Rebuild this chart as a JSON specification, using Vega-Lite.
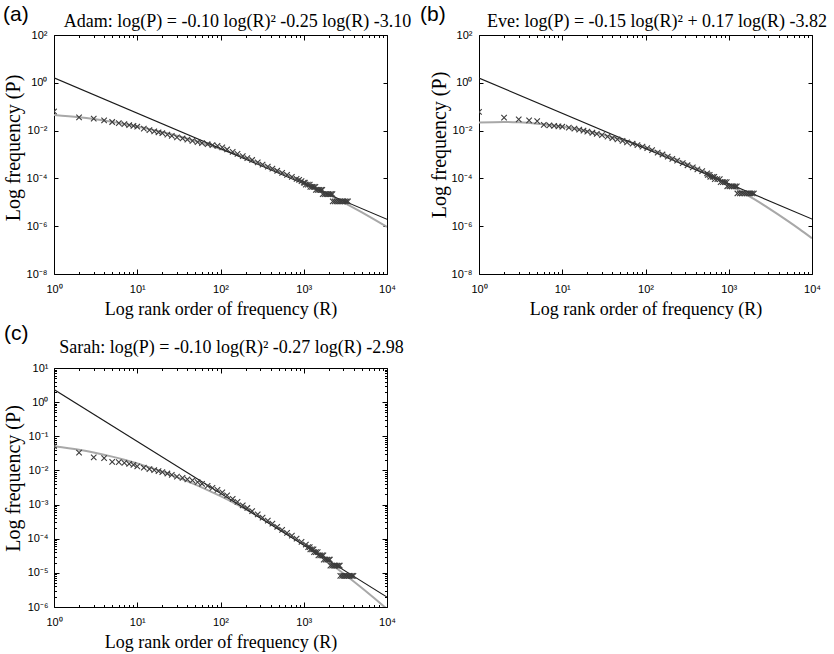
{
  "$schema": "https://vega.github.io/schema/vega-lite/v6.json",
  "autosize": {"type": "none"},
  "padding": {"left": 54, "top": 35, "right": 780, "bottom": 619},
  "background": "#ffffff",
  "bounds": "flush",
  "columns": 2,
  "spacing": {"row": 94, "column": 92},
  "config": {
    "view": {"stroke": "#000000", "strokeWidth": 1},
    "axis": {"grid": false, "domain": false, "labelFont": "Liberation Sans", "labelFontSize": 11, "labelColor": "#000000", "tickColor": "#000000", "tickWidth": 1, "titleFont": "Liberation Serif", "titleFontSize": 18, "titleFontWeight": "normal", "titleColor": "#000000", "labelFlush": false, "labelOverlap": false},
    "axisLeft": {"titleFontSize": 20},
    "title": {"font": "Liberation Sans", "fontSize": 21, "fontWeight": "normal", "color": "#000000", "anchor": "start", "frame": "group"}
  },
  "datasets": {
    "adam_pts": [{"R":1,"P":0.0631},{"R":2,"P":0.0355},{"R":3,"P":0.0316},{"R":4,"P":0.0269},{"R":5,"P":0.0229},{"R":6,"P":0.0204},{"R":7,"P":0.0186},{"R":8,"P":0.017},{"R":9,"P":0.0158},{"R":10,"P":0.0145},{"R":12,"P":0.012},{"R":14,"P":0.0105},{"R":16,"P":0.00933},{"R":18,"P":0.00851},{"R":20,"P":0.00776},{"R":23,"P":0.00676},{"R":26,"P":0.00603},{"R":30,"P":0.00525},{"R":35,"P":0.00468},{"R":40,"P":0.00417},{"R":46,"P":0.00372},{"R":53,"P":0.00331},{"R":60,"P":0.00302},{"R":70,"P":0.00269},{"R":80,"P":0.00245},{"R":92,"P":0.00229},{"R":105,"P":0.002},{"R":120,"P":0.00162},{"R":140,"P":0.00129},{"R":160,"P":0.00107},{"R":185,"P":0.000851},{"R":210,"P":0.000708},{"R":240,"P":0.000589},{"R":280,"P":0.000468},{"R":320,"P":0.00038},{"R":370,"P":0.000309},{"R":420,"P":0.000257},{"R":480,"P":0.000209},{"R":550,"P":0.00017},{"R":630,"P":0.000141},{"R":720,"P":0.000115},{"R":820,"P":9.55e-5},{"R":880,"P":8.77e-5},{"R":940,"P":7.67e-5},{"R":1000,"P":6.58e-5},{"R":1030,"P":6.58e-5},{"R":1060,"P":5.48e-5},{"R":1120,"P":5.48e-5},{"R":1180,"P":5.48e-5},{"R":1200,"P":4.38e-5},{"R":1260,"P":4.38e-5},{"R":1320,"P":4.38e-5},{"R":1380,"P":4.38e-5},{"R":1400,"P":3.29e-5},{"R":1470,"P":3.29e-5},{"R":1540,"P":3.29e-5},{"R":1610,"P":3.29e-5},{"R":1670,"P":3.29e-5},{"R":1690,"P":2.19e-5},{"R":1780,"P":2.19e-5},{"R":1870,"P":2.19e-5},{"R":1960,"P":2.19e-5},{"R":2050,"P":2.19e-5},{"R":2140,"P":2.19e-5},{"R":2210,"P":2.19e-5},{"R":2230,"P":1.1e-5},{"R":2350,"P":1.1e-5},{"R":2470,"P":1.1e-5},{"R":2600,"P":1.1e-5},{"R":2730,"P":1.1e-5},{"R":2860,"P":1.1e-5},{"R":3000,"P":1.1e-5},{"R":3140,"P":1.1e-5},{"R":3280,"P":1.1e-5},{"R":3400,"P":1.1e-5}],
    "adam_quad": [{"R":1,"P":0.0451},{"R":2,"P":0.0361},{"R":3,"P":0.0303},{"R":5,"P":0.0232},{"R":7,"P":0.019},{"R":10,"P":0.0149},{"R":15,"P":0.011},{"R":20,"P":0.00869},{"R":30,"P":0.00605},{"R":50,"P":0.00366},{"R":70,"P":0.00256},{"R":100,"P":0.00171},{"R":150,"P":0.001045},{"R":200,"P":0.000723},{"R":300,"P":0.000418},{"R":500,"P":0.0002},{"R":700,"P":0.00012},{"R":1000,"P":6.78e-5},{"R":1500,"P":3.44e-5},{"R":2000,"P":2.08e-5},{"R":3000,"P":1e-5},{"R":5000,"P":3.78e-6},{"R":7000,"P":1.94e-6},{"R":10000,"P":9.33e-7}],
    "adam_pow": [{"R":1,"P":1.62},{"R":10000,"P":1.95e-6}],
    "eve_pts": [{"R":1,"P":0.0603},{"R":2,"P":0.0347},{"R":3,"P":0.0295},{"R":4,"P":0.0269},{"R":5,"P":0.0251},{"R":6,"P":0.0174},{"R":7,"P":0.0166},{"R":8,"P":0.0158},{"R":9,"P":0.0151},{"R":10,"P":0.0145},{"R":12,"P":0.0132},{"R":14,"P":0.012},{"R":16,"P":0.011},{"R":18,"P":0.01},{"R":20,"P":0.00912},{"R":23,"P":0.00813},{"R":26,"P":0.00724},{"R":30,"P":0.00646},{"R":35,"P":0.00562},{"R":40,"P":0.0049},{"R":46,"P":0.00427},{"R":53,"P":0.00372},{"R":60,"P":0.00324},{"R":70,"P":0.00282},{"R":80,"P":0.00245},{"R":92,"P":0.00214},{"R":105,"P":0.00186},{"R":120,"P":0.00151},{"R":140,"P":0.0012},{"R":160,"P":0.001},{"R":185,"P":0.000813},{"R":210,"P":0.000661},{"R":240,"P":0.00055},{"R":280,"P":0.000437},{"R":320,"P":0.000355},{"R":370,"P":0.000288},{"R":420,"P":0.00024},{"R":480,"P":0.0002},{"R":550,"P":0.000164},{"R":560,"P":0.000141},{"R":590,"P":0.000141},{"R":600,"P":0.000117},{"R":640,"P":0.000117},{"R":670,"P":0.000117},{"R":680,"P":9.38e-5},{"R":730,"P":9.38e-5},{"R":780,"P":9.38e-5},{"R":800,"P":7.03e-5},{"R":850,"P":7.03e-5},{"R":900,"P":7.03e-5},{"R":945,"P":7.03e-5},{"R":960,"P":4.69e-5},{"R":1020,"P":4.69e-5},{"R":1080,"P":4.69e-5},{"R":1140,"P":4.69e-5},{"R":1200,"P":4.69e-5},{"R":1250,"P":4.69e-5},{"R":1270,"P":2.34e-5},{"R":1360,"P":2.34e-5},{"R":1450,"P":2.34e-5},{"R":1540,"P":2.34e-5},{"R":1630,"P":2.34e-5},{"R":1720,"P":2.34e-5},{"R":1810,"P":2.34e-5},{"R":1900,"P":2.34e-5},{"R":2000,"P":2.34e-5}],
    "eve_quad": [{"R":1,"P":0.0219},{"R":2,"P":0.023},{"R":3,"P":0.0221},{"R":5,"P":0.0195},{"R":7,"P":0.0173},{"R":10,"P":0.0147},{"R":15,"P":0.0116},{"R":20,"P":0.00951},{"R":30,"P":0.0069},{"R":50,"P":0.0043},{"R":70,"P":0.00301},{"R":100,"P":0.00199},{"R":150,"P":0.00119},{"R":200,"P":0.0008},{"R":300,"P":0.00044},{"R":500,"P":0.000192},{"R":700,"P":0.000107},{"R":1000,"P":5.52e-5},{"R":1500,"P":2.49e-5},{"R":2000,"P":1.38e-5},{"R":3000,"P":5.7e-6},{"R":5000,"P":1.75e-6},{"R":7000,"P":7.73e-7},{"R":10000,"P":3.13e-7}],
    "eve_pow": [{"R":1,"P":1.58},{"R":10000,"P":2e-6}],
    "sarah_pts": [{"R":1,"P":0.0513},{"R":2,"P":0.0331},{"R":3,"P":0.024},{"R":4,"P":0.0229},{"R":5,"P":0.0178},{"R":6,"P":0.0174},{"R":7,"P":0.0166},{"R":8,"P":0.0155},{"R":9,"P":0.0145},{"R":10,"P":0.0132},{"R":12,"P":0.012},{"R":14,"P":0.011},{"R":16,"P":0.0102},{"R":18,"P":0.00955},{"R":20,"P":0.00891},{"R":23,"P":0.00813},{"R":26,"P":0.00741},{"R":30,"P":0.00661},{"R":35,"P":0.00603},{"R":40,"P":0.0055},{"R":46,"P":0.00513},{"R":53,"P":0.00457},{"R":60,"P":0.00407},{"R":70,"P":0.00355},{"R":80,"P":0.00309},{"R":92,"P":0.00269},{"R":105,"P":0.00229},{"R":120,"P":0.00186},{"R":140,"P":0.00148},{"R":160,"P":0.0012},{"R":185,"P":0.000955},{"R":210,"P":0.000794},{"R":240,"P":0.000646},{"R":280,"P":0.000513},{"R":320,"P":0.000417},{"R":370,"P":0.000339},{"R":420,"P":0.000275},{"R":480,"P":0.000224},{"R":550,"P":0.000182},{"R":630,"P":0.000148},{"R":720,"P":0.000123},{"R":820,"P":0.0001},{"R":940,"P":8.13e-5},{"R":1060,"P":6.76e-5},{"R":1130,"P":5.69e-5},{"R":1180,"P":5.69e-5},{"R":1200,"P":4.88e-5},{"R":1260,"P":4.88e-5},{"R":1310,"P":4.88e-5},{"R":1330,"P":4.06e-5},{"R":1400,"P":4.06e-5},{"R":1470,"P":4.06e-5},{"R":1500,"P":3.25e-5},{"R":1580,"P":3.25e-5},{"R":1660,"P":3.25e-5},{"R":1720,"P":3.25e-5},{"R":1740,"P":2.44e-5},{"R":1830,"P":2.44e-5},{"R":1920,"P":2.44e-5},{"R":2010,"P":2.44e-5},{"R":2060,"P":2.44e-5},{"R":2090,"P":1.63e-5},{"R":2200,"P":1.63e-5},{"R":2310,"P":1.63e-5},{"R":2420,"P":1.63e-5},{"R":2530,"P":1.63e-5},{"R":2640,"P":1.63e-5},{"R":2710,"P":1.63e-5},{"R":2750,"P":8.13e-6},{"R":2900,"P":8.13e-6},{"R":3050,"P":8.13e-6},{"R":3200,"P":8.13e-6},{"R":3350,"P":8.13e-6},{"R":3500,"P":8.13e-6},{"R":3650,"P":8.13e-6},{"R":3800,"P":8.13e-6},{"R":3950,"P":8.13e-6}],
    "sarah_quad": [{"R":1,"P":0.0508},{"R":2,"P":0.0402},{"R":3,"P":0.0335},{"R":5,"P":0.0254},{"R":7,"P":0.0206},{"R":10,"P":0.0161},{"R":15,"P":0.0117},{"R":20,"P":0.00923},{"R":30,"P":0.00638},{"R":50,"P":0.00382},{"R":70,"P":0.00265},{"R":100,"P":0.00176},{"R":150,"P":0.00107},{"R":200,"P":0.000733},{"R":300,"P":0.000421},{"R":500,"P":0.0002},{"R":700,"P":0.000119},{"R":1000,"P":6.65e-5},{"R":1500,"P":3.36e-5},{"R":2000,"P":2.02e-5},{"R":3000,"P":9.62e-6},{"R":5000,"P":3.61e-6},{"R":7000,"P":1.83e-6},{"R":10000,"P":8.75e-7}],
    "sarah_pow": [{"R":1,"P":2.34},{"R":10000,"P":1.95e-6}]
  },
  "concat": [
    {
      "width": 333, "height": 239,
      "title": {"text": "(a)", "dx": -51, "dy": 17},
      "layer": [
        {"data": {"name": "adam_quad"},
         "mark": {"type": "line", "color": "#a8a8a8", "strokeWidth": 2, "interpolate": "monotone", "clip": true},
         "encoding": {
           "x": {"field": "R", "type": "quantitative", "scale": {"type": "log", "domain": [1, 10000], "nice": false},
                 "axis": {"orient": "bottom", "values": [1,2,3,4,5,6,7,8,9,10,20,30,40,50,60,70,80,90,100,200,300,400,500,600,700,800,900,1000,2000,3000,4000,5000,6000,7000,8000,9000,10000],
                          "labelExpr": "abs(log(datum.value)/LN10-round(log(datum.value)/LN10))<0.001 ? '10'+['⁰','¹','²','³','⁴'][round(log(datum.value)/LN10)] : ''",
                          "tickSize": {"condition": {"test": "abs(log(datum.value)/LN10-round(log(datum.value)/LN10))<0.001", "value": -5}, "value": -2.5},
                          "labelPadding": 14, "title": "Log rank order of frequency (R)", "titleX": 166.5, "titleY": 40, "titleBaseline": "alphabetic", "titleAlign": "center"}},
           "y": {"field": "P", "type": "quantitative", "scale": {"type": "log", "domain": [1e-8, 100], "nice": false},
                 "axis": {"orient": "left", "values": [1e-8,1e-6,1e-4,0.01,1,100],
                          "labelExpr": "(datum.value<0.5?'10⁻':'10')+['⁰','¹','²','³','⁴','⁵','⁶','⁷','⁸'][abs(round(log(datum.value)/LN10))]",
                          "tickSize": -4, "labelPadding": 11, "title": "Log frequency (P)", "titleX": -35, "titleY": 112.5, "titleBaseline": "alphabetic", "titleAlign": "center"}}
         }},
        {"data": {"name": "adam_pow"},
         "mark": {"type": "line", "color": "#1a1a1a", "strokeWidth": 1.1, "clip": true},
         "encoding": {
           "x": {"field": "R", "type": "quantitative",
                 "axis": {"orient": "top", "values": [1,2,3,4,5,6,7,8,9,10,20,30,40,50,60,70,80,90,100,200,300,400,500,600,700,800,900,1000,2000,3000,4000,5000,6000,7000,8000,9000,10000], "labels": false,
                          "tickSize": {"condition": {"test": "abs(log(datum.value)/LN10-round(log(datum.value)/LN10))<0.001", "value": -5}, "value": -2.5},
                          "title": "Adam: log(P) = -0.10 log(R)² -0.25 log(R) -3.10", "titleX": 183, "titleY": -9, "titleBaseline": "alphabetic", "titleAlign": "center"}},
           "y": {"field": "P", "type": "quantitative",
                 "axis": {"orient": "right", "values": [1e-8,1e-6,1e-4,0.01,1,100], "labels": false, "tickSize": -4, "title": null}}
         }},
        {"data": {"name": "adam_pts"},
         "mark": {"type": "point", "shape": "M-1,-1L1,1M-1,1L1,-1", "filled": false, "size": 30, "color": "#3c3c3c", "strokeWidth": 1.1, "opacity": 1, "clip": true},
         "encoding": {
           "x": {"field": "R", "type": "quantitative", "axis": null},
           "y": {"field": "P", "type": "quantitative", "axis": null}
         }}
      ],
      "resolve": {"axis": {"x": "independent", "y": "independent"}}
    },
    {
      "width": 333, "height": 239,
      "title": {"text": "(b)", "dx": -59, "dy": 17},
      "layer": [
        {"data": {"name": "eve_quad"},
         "mark": {"type": "line", "color": "#a8a8a8", "strokeWidth": 2, "interpolate": "monotone", "clip": true},
         "encoding": {
           "x": {"field": "R", "type": "quantitative", "scale": {"type": "log", "domain": [1, 10000], "nice": false},
                 "axis": {"orient": "bottom", "values": [1,2,3,4,5,6,7,8,9,10,20,30,40,50,60,70,80,90,100,200,300,400,500,600,700,800,900,1000,2000,3000,4000,5000,6000,7000,8000,9000,10000],
                          "labelExpr": "abs(log(datum.value)/LN10-round(log(datum.value)/LN10))<0.001 ? '10'+['⁰','¹','²','³','⁴'][round(log(datum.value)/LN10)] : ''",
                          "tickSize": {"condition": {"test": "abs(log(datum.value)/LN10-round(log(datum.value)/LN10))<0.001", "value": -5}, "value": -2.5},
                          "labelPadding": 14, "title": "Log rank order of frequency (R)", "titleX": 166.5, "titleY": 40, "titleBaseline": "alphabetic", "titleAlign": "center"}},
           "y": {"field": "P", "type": "quantitative", "scale": {"type": "log", "domain": [1e-8, 100], "nice": false},
                 "axis": {"orient": "left", "values": [1e-8,1e-6,1e-4,0.01,1,100],
                          "labelExpr": "(datum.value<0.5?'10⁻':'10')+['⁰','¹','²','³','⁴','⁵','⁶','⁷','⁸'][abs(round(log(datum.value)/LN10))]",
                          "tickSize": -4, "labelPadding": 11, "title": "Log frequency (P)", "titleX": -34, "titleY": 109.5, "titleBaseline": "alphabetic", "titleAlign": "center"}}
         }},
        {"data": {"name": "eve_pow"},
         "mark": {"type": "line", "color": "#1a1a1a", "strokeWidth": 1.1, "clip": true},
         "encoding": {
           "x": {"field": "R", "type": "quantitative",
                 "axis": {"orient": "top", "values": [1,2,3,4,5,6,7,8,9,10,20,30,40,50,60,70,80,90,100,200,300,400,500,600,700,800,900,1000,2000,3000,4000,5000,6000,7000,8000,9000,10000], "labels": false,
                          "tickSize": {"condition": {"test": "abs(log(datum.value)/LN10-round(log(datum.value)/LN10))<0.001", "value": -5}, "value": -2.5},
                          "title": "Eve: log(P) = -0.15 log(R)² + 0.17 log(R) -3.82", "titleX": 177.5, "titleY": -9, "titleBaseline": "alphabetic", "titleAlign": "center"}},
           "y": {"field": "P", "type": "quantitative",
                 "axis": {"orient": "right", "values": [1e-8,1e-6,1e-4,0.01,1,100], "labels": false, "tickSize": -4, "title": null}}
         }},
        {"data": {"name": "eve_pts"},
         "mark": {"type": "point", "shape": "M-1,-1L1,1M-1,1L1,-1", "filled": false, "size": 30, "color": "#3c3c3c", "strokeWidth": 1.1, "opacity": 1, "clip": true},
         "encoding": {
           "x": {"field": "R", "type": "quantitative", "axis": null},
           "y": {"field": "P", "type": "quantitative", "axis": null}
         }}
      ],
      "resolve": {"axis": {"x": "independent", "y": "independent"}}
    },
    {
      "width": 333, "height": 239,
      "title": {"text": "(c)", "dx": -50, "dy": 10},
      "layer": [
        {"data": {"name": "sarah_quad"},
         "mark": {"type": "line", "color": "#a8a8a8", "strokeWidth": 2, "interpolate": "monotone", "clip": true},
         "encoding": {
           "x": {"field": "R", "type": "quantitative", "scale": {"type": "log", "domain": [1, 10000], "nice": false},
                 "axis": {"orient": "bottom", "values": [1,2,3,4,5,6,7,8,9,10,20,30,40,50,60,70,80,90,100,200,300,400,500,600,700,800,900,1000,2000,3000,4000,5000,6000,7000,8000,9000,10000],
                          "labelExpr": "abs(log(datum.value)/LN10-round(log(datum.value)/LN10))<0.001 ? '10'+['⁰','¹','²','³','⁴'][round(log(datum.value)/LN10)] : ''",
                          "tickSize": {"condition": {"test": "abs(log(datum.value)/LN10-round(log(datum.value)/LN10))<0.001", "value": -5}, "value": -2.5},
                          "labelPadding": 14, "title": "Log rank order of frequency (R)", "titleX": 166.5, "titleY": 40, "titleBaseline": "alphabetic", "titleAlign": "center"}},
           "y": {"field": "P", "type": "quantitative", "scale": {"type": "log", "domain": [1e-6, 10], "nice": false},
                 "axis": {"orient": "left", "values": [1e-6,2e-6,3e-6,4e-6,5e-6,6e-6,7e-6,8e-6,9e-6,1e-5,2e-5,3e-5,4e-5,5e-5,6e-5,7e-5,8e-5,9e-5,1e-4,2e-4,3e-4,4e-4,5e-4,6e-4,7e-4,8e-4,9e-4,0.001,0.002,0.003,0.004,0.005,0.006,0.007,0.008,0.009,0.01,0.02,0.03,0.04,0.05,0.06,0.07,0.08,0.09,0.1,0.2,0.3,0.4,0.5,0.6,0.7,0.8,0.9,1,2,3,4,5,6,7,8,9,10],
                          "labelExpr": "abs(log(datum.value)/LN10-round(log(datum.value)/LN10))<0.001 ? (datum.value<0.5?'10⁻':'10')+['⁰','¹','²','³','⁴','⁵','⁶','⁷','⁸'][abs(round(log(datum.value)/LN10))] : ''",
                          "tickSize": {"condition": {"test": "abs(log(datum.value)/LN10-round(log(datum.value)/LN10))<0.001", "value": -5}, "value": -2.5},
                          "labelPadding": 11, "title": "Log frequency (P)", "titleX": -35, "titleY": 110, "titleBaseline": "alphabetic", "titleAlign": "center"}}
         }},
        {"data": {"name": "sarah_pow"},
         "mark": {"type": "line", "color": "#1a1a1a", "strokeWidth": 1.1, "clip": true},
         "encoding": {
           "x": {"field": "R", "type": "quantitative",
                 "axis": {"orient": "top", "values": [1,2,3,4,5,6,7,8,9,10,20,30,40,50,60,70,80,90,100,200,300,400,500,600,700,800,900,1000,2000,3000,4000,5000,6000,7000,8000,9000,10000], "labels": false,
                          "tickSize": {"condition": {"test": "abs(log(datum.value)/LN10-round(log(datum.value)/LN10))<0.001", "value": -5}, "value": -2.5},
                          "title": "Sarah: log(P) = -0.10 log(R)² -0.27 log(R) -2.98", "titleX": 177, "titleY": -16, "titleBaseline": "alphabetic", "titleAlign": "center"}},
           "y": {"field": "P", "type": "quantitative",
                 "axis": {"orient": "right", "values": [1e-6,2e-6,3e-6,4e-6,5e-6,6e-6,7e-6,8e-6,9e-6,1e-5,2e-5,3e-5,4e-5,5e-5,6e-5,7e-5,8e-5,9e-5,1e-4,2e-4,3e-4,4e-4,5e-4,6e-4,7e-4,8e-4,9e-4,0.001,0.002,0.003,0.004,0.005,0.006,0.007,0.008,0.009,0.01,0.02,0.03,0.04,0.05,0.06,0.07,0.08,0.09,0.1,0.2,0.3,0.4,0.5,0.6,0.7,0.8,0.9,1,2,3,4,5,6,7,8,9,10], "labels": false,
                          "tickSize": {"condition": {"test": "abs(log(datum.value)/LN10-round(log(datum.value)/LN10))<0.001", "value": -5}, "value": -2.5}, "title": null}}
         }},
        {"data": {"name": "sarah_pts"},
         "mark": {"type": "point", "shape": "M-1,-1L1,1M-1,1L1,-1", "filled": false, "size": 30, "color": "#3c3c3c", "strokeWidth": 1.1, "opacity": 1, "clip": true},
         "encoding": {
           "x": {"field": "R", "type": "quantitative", "axis": null},
           "y": {"field": "P", "type": "quantitative", "axis": null}
         }}
      ],
      "resolve": {"axis": {"x": "independent", "y": "independent"}}
    }
  ]
}
